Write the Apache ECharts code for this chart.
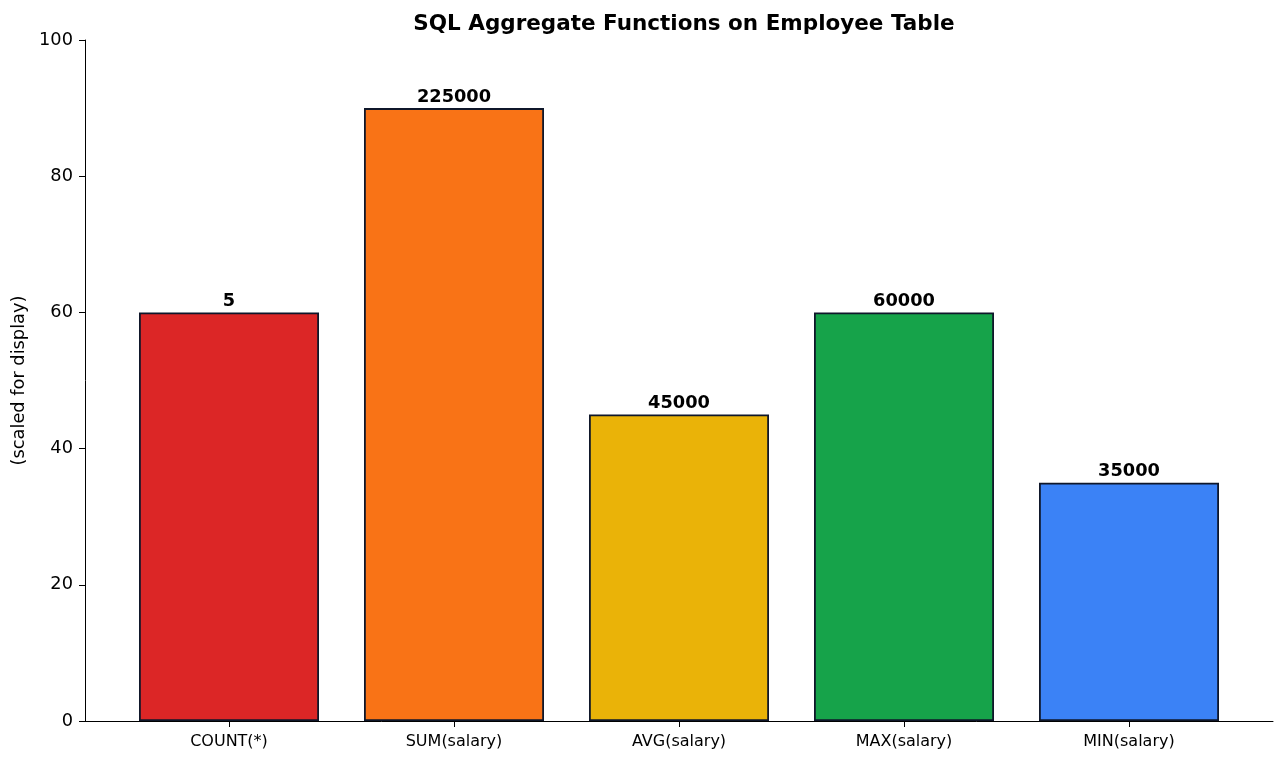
<!DOCTYPE html>
<html>
<head>
<meta charset="utf-8">
<script src="https://cdn.jsdelivr.net/npm/echarts@6/dist/echarts.min.js"></script>
<style>
html, body { margin: 0; padding: 0; background: #fff; }
#main { width: 1286px; height: 762px; }
</style>
</head>
<body>
<div id="main"></div>
<script>
var categories = ['COUNT(*)', 'SUM(salary)', 'AVG(salary)', 'MAX(salary)', 'MIN(salary)'];
var scaledValues = [60, 90, 45, 60, 35];
var actualValues = [5, 225000, 45000, 60000, 35000];
var barColors = ['#dc2626', '#f97316', '#eab308', '#16a34a', '#3b82f6'];
var yTicks = [0, 20, 40, 60, 80, 100];

var chart = echarts.init(document.getElementById('main'));

var barData = [];
for (var i = 0; i < categories.length; i++) {
	barData.push({
		value: [i, scaledValues[i]],
		itemStyle: { color: barColors[i] },
		label: { formatter: String(actualValues[i]) }
	});
}

var font = "'DejaVu Sans', sans-serif";

var option = {
	backgroundColor: '#ffffff',
	animation: false,
	title: {
		text: 'SQL Aggregate Functions on Employee Table',
		left: 679,
		textAlign: 'center',
		top: 8,
		textStyle: {
			fontFamily: font,
			fontSize: 21.5,
			fontWeight: 'bold',
			color: '#000'
		}
	},
	grid: {
		left: 85,
		right: 13,
		top: 40,
		bottom: 41
	},
	xAxis: {
		type: 'value',
		min: -0.64,
		max: 4.64,
		splitLine: { show: false },
		axisLine: { show: true, onZero: false, lineStyle: { color: '#000', width: 1 } },
		axisTick: {
			show: true,
			customValues: [0, 1, 2, 3, 4],
			length: 6,
			lineStyle: { color: '#000' }
		},
		axisLabel: {
			customValues: [0, 1, 2, 3, 4],
			formatter: function(v) {
				return categories[Math.round(v)];
			},
			fontFamily: font,
			fontSize: 16,
			color: '#000',
			margin: 13
		}
	},
	yAxis: {
		type: 'value',
		min: 0,
		max: 100,
		interval: 20,
		name: '(scaled for display)',
		nameLocation: 'middle',
		nameGap: 55,
		nameTextStyle: {
			fontFamily: font,
			fontSize: 17.8,
			color: '#000'
		},
		splitLine: { show: false },
		axisLine: { show: true, onZero: false, lineStyle: { color: '#000', width: 1 } },
		axisTick: { show: true, length: 6, lineStyle: { color: '#000' } },
		axisLabel: {
			fontFamily: font,
			fontSize: 17.8,
			color: '#000',
			margin: 12,
			formatter: function(v) {
				return yTicks.indexOf(v) >= 0 ? String(v) : '';
			}
		}
	},
	series: [{
		type: 'bar',
		barWidth: 180,
		data: barData,
		itemStyle: {
			borderColor: '#0f172a',
			borderWidth: 1.8
		},
		label: {
			show: true,
			position: 'top',
			distance: 2,
			fontFamily: font,
			fontSize: 17.8,
			fontWeight: 'bold',
			color: '#000'
		}
	}]
};

chart.setOption(option);
</script>
</body>
</html>
